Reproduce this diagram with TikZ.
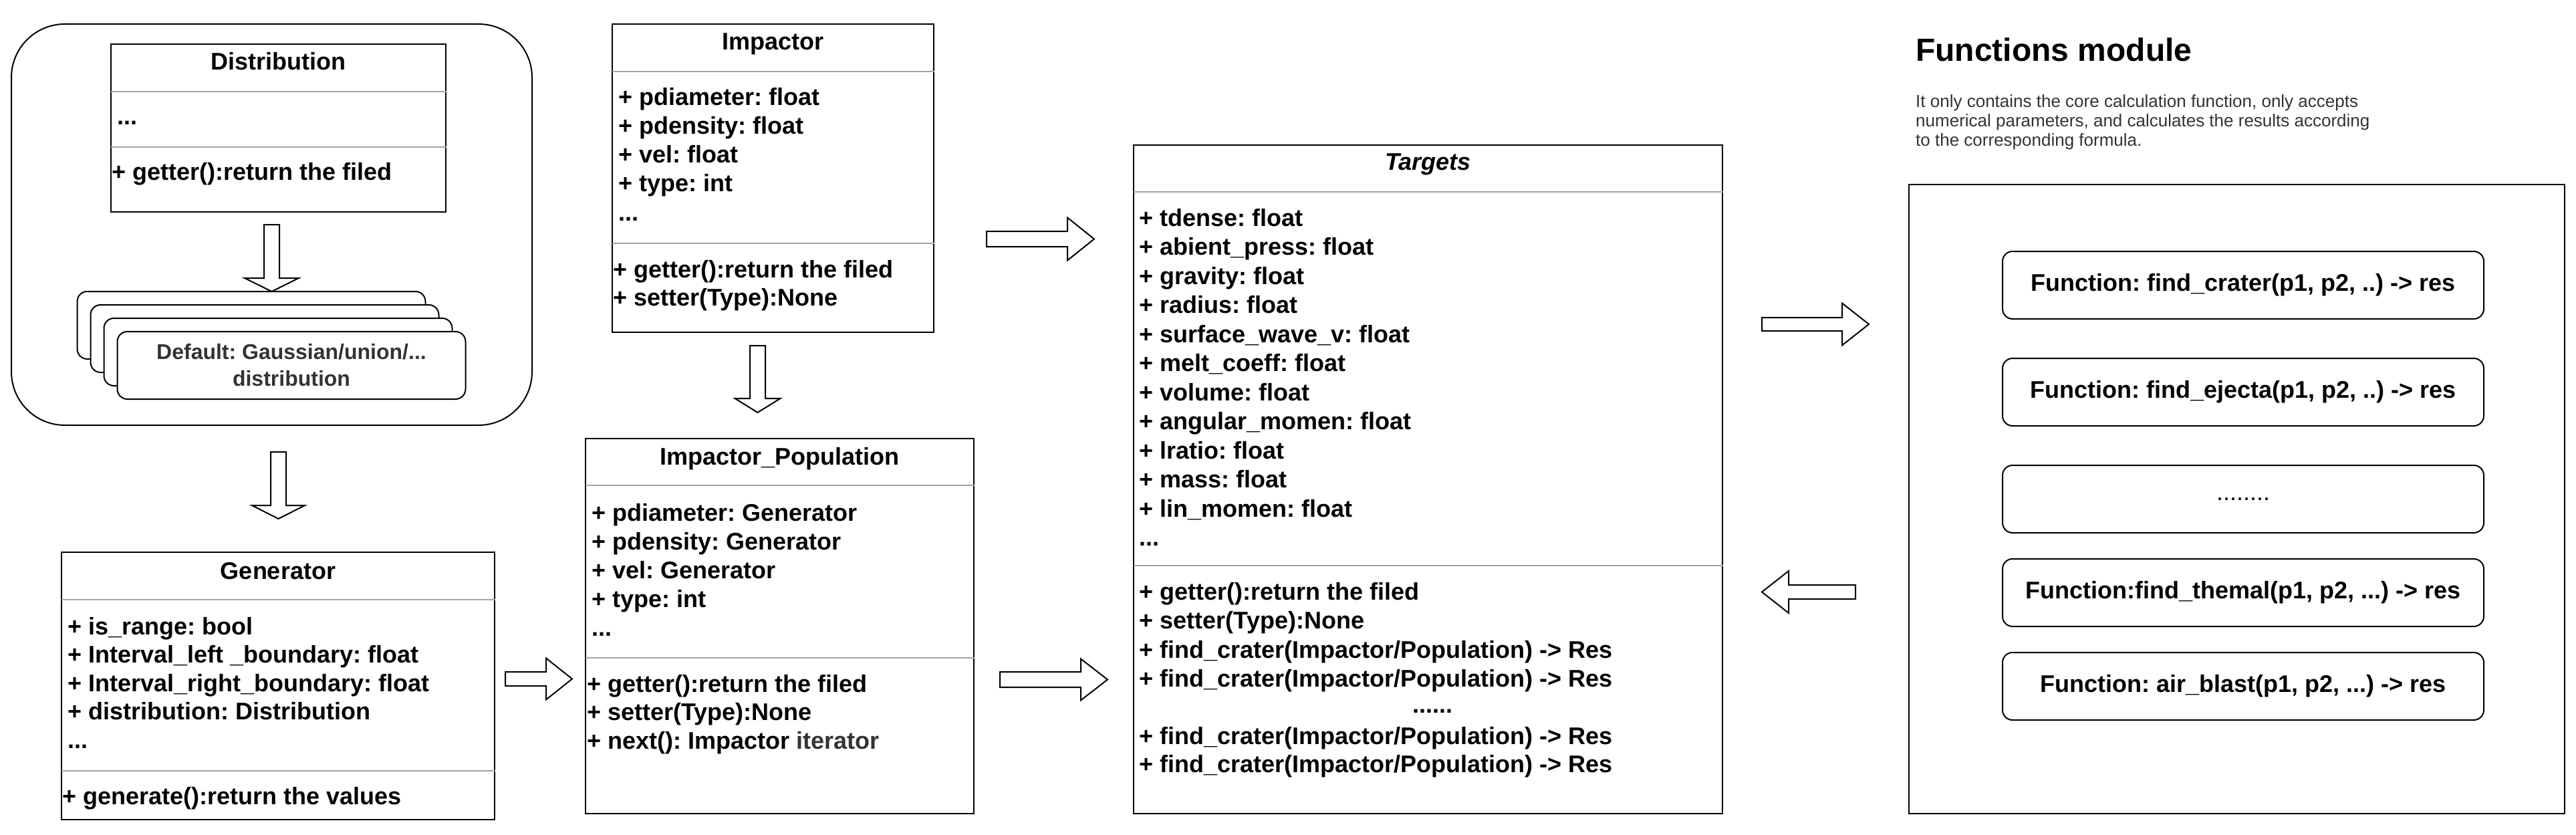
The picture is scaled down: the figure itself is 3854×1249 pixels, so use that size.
\documentclass[tikz,border=0pt]{standalone}
\usepackage{fontspec}
\setmainfont{Liberation Sans}
\frenchspacing
\definecolor{sepgray}{HTML}{A3A3A3}
\definecolor{txtgray}{HTML}{333333}
\newcommand{\myfs}[2]{\fontsize{#1pt}{#2pt}\selectfont}
\newcommand{\dotsline}{...}
% horizontal block arrow: tail x, tip x, centre y, shaft half, head half, head length (negative for left)
\newcommand{\blkR}[6]{\draw[barrow] (#1,{#3-#4}) -- ({#2-#6},{#3-#4}) -- ({#2-#6},{#3-#5}) -- (#2,#3) -- ({#2-#6},{#3+#5}) -- ({#2-#6},{#3+#4}) -- (#1,{#3+#4}) -- cycle;}
% vertical block arrow: centre x, top y, tip y, shaft half, head half, head length
\newcommand{\blkD}[6]{\draw[barrow] ({#1-#4},#2) -- ({#1-#4},{#3-#6}) -- ({#1-#5},{#3-#6}) -- (#1,#3) -- ({#1+#5},{#3-#6}) -- ({#1+#4},{#3-#6}) -- ({#1+#4},#2) -- cycle;}
\tikzset{
  box/.style={draw=black, line width=2pt, fill=white, inner sep=0pt, outer sep=0pt},
  rbox/.style={box, rounded corners=15pt},
  sepline/.style={draw=sepgray, line width=2.5pt},
  mtxt/.style={font=\myfs{36}{43}\bfseries, inner sep=0pt, anchor=base west},
  ttl/.style={font=\myfs{36}{43}\bfseries, inner sep=0pt, anchor=base},
  ftxt/.style={font=\myfs{36}{43}\bfseries},
  barrow/.style={draw=black, line width=2pt, fill=white, line join=miter},
}
\begin{document}
\begin{tikzpicture}[x=1pt,y=-1pt]
\useasboundingbox (0,0) rectangle (3854,1249);
\fill[white] (0,0) rectangle (3854,1249);

% ---------- Distribution group ----------
\node[box, rounded corners=80pt, minimum width=779pt, minimum height=600pt] (outer) at (406.5,336) {};
\node[box, minimum width=501pt, minimum height=251pt] (dist) at (416.5,191.5) {};
\draw[sepline] (166,137) -- (668,137);
\draw[sepline] (166,220) -- (668,220);
\node[ttl] (distT) at (416.5,105) {Distribution};
\node[mtxt] (distA) at (175,187) {\dotsline};
\node[mtxt] (distM) at (167,270) {+ getter():return the filed};

\blkD{406.5}{336}{436}{11.5}{40.5}{20}

\node[rbox, minimum width=521pt, minimum height=101pt] (card1) at (376,486.5) {};
\node[rbox, minimum width=521pt, minimum height=101pt] (card2) at (396,506.5) {};
\node[rbox, minimum width=521pt, minimum height=101pt] (card3) at (416,526.5) {};
\node[rbox, minimum width=521pt, minimum height=101pt, font=\myfs{32}{40}\bfseries, text=txtgray, align=center] (card4) at (436,546.5) {Default: Gaussian/union/\dotsline\\distribution};

\blkD{416.5}{676}{776}{11.5}{39.5}{20}

% ---------- Generator ----------
\node[box, minimum width=648pt, minimum height=400pt] (gen) at (416,1026) {};
\draw[sepline] (92,897) -- (741,897);
\draw[sepline] (92,1153) -- (741,1153);
\node[ttl] (genT) at (416,866) {Generator};
\foreach \txt [count=\i] in {{+ is\_range: bool},{+ Interval\_left \_boundary: float},{+ Interval\_right\_boundary: float},{+ distribution: Distribution}}
  \node[mtxt] (genA\i) at (101,{949+42.5*(\i-1)}) {\txt};
\node[mtxt] (genA5) at (101,1119) {\dotsline};
\node[mtxt] (genM) at (93,1203) {+ generate():return the values};

\blkR{756}{856}{1015.5}{10.5}{31}{39}

% ---------- Impactor ----------
\node[box, minimum width=481pt, minimum height=461pt] (imp) at (1156.5,266.5) {};
\draw[sepline] (916,107) -- (1398,107);
\draw[sepline] (916,364) -- (1398,364);
\node[ttl] (impT) at (1156.5,75) {Impactor};
\foreach \txt [count=\i] in {{+ pdiameter: float},{+ pdensity: float},{+ vel: float},{+ type: int}}
  \node[mtxt] (impA\i) at (925,{158+43*(\i-1)}) {\txt};
\node[mtxt] (impA5) at (925,330) {\dotsline};
\node[mtxt] (impM1) at (917,415) {+ getter():return the filed};
\node[mtxt] (impM2) at (917,457) {+ setter(Type):None};

\blkD{1133.5}{517}{617}{11.5}{34}{21}

% ---------- Impactor_Population ----------
\node[box, minimum width=581pt, minimum height=561pt] (pop) at (1166.5,936.5) {};
\draw[sepline] (876,726) -- (1458,726);
\draw[sepline] (876,984) -- (1458,984);
\node[ttl] (popT) at (1166.5,695) {Impactor\_Population};
\foreach \txt [count=\i] in {{+ pdiameter: Generator},{+ pdensity: Generator},{+ vel: Generator},{+ type: int}}
  \node[mtxt] (popA\i) at (885,{779+43*(\i-1)}) {\txt};
\node[mtxt] (popA5) at (885,951) {\dotsline};
\node[mtxt] (popM1) at (878,1035) {+ getter():return the filed};
\node[mtxt] (popM2) at (878,1077) {+ setter(Type):None};
\node[mtxt] (popM3) at (878,1120) {+ next(): Impactor \textcolor{txtgray}{iterator}};

% ---------- arrows to Targets ----------
\blkR{1476}{1637}{357.5}{11.5}{32}{40}
\blkR{1496}{1657}{1016.5}{11.5}{31}{40}

% ---------- Targets ----------
\node[box, minimum width=881pt, minimum height=1000pt] (tgt) at (2136.5,717) {};
\draw[sepline] (1696,287) -- (2578,287);
\draw[sepline] (1696,846) -- (2578,846);
\node[ttl, font=\myfs{36}{43}\bfseries\itshape] (tgtT) at (2136.5,255) {Targets};
\foreach \txt [count=\i] in {{+ tdense: float},{+ abient\_press: float},{+ gravity: float},{+ radius: float},{+ surface\_wave\_v: float},{+ melt\_coeff: float},{+ volume: float},{+ angular\_momen: float},{+ lratio: float},{+ mass: float},{+ lin\_momen: float}}
  \node[mtxt] (tgtA\i) at (1704.5,{338+43.5*(\i-1)}) {\txt};
\node[mtxt] (tgtA12) at (1704.5,816.5) {\dotsline};
\node[mtxt] (tgtM1) at (1704.5,897) {+ getter():return the filed};
\node[mtxt] (tgtM2) at (1704.5,940) {+ setter(Type):None};
\node[mtxt] (tgtM3) at (1704.5,984) {+ find\_crater(Impactor/Population) -> Res};
\node[mtxt] (tgtM4) at (1704.5,1027) {+ find\_crater(Impactor/Population) -> Res};
\node[ttl] (tgtM5) at (2143,1066) {\dotsline\dotsline};
\node[mtxt] (tgtM6) at (1704.5,1113) {+ find\_crater(Impactor/Population) -> Res};
\node[mtxt] (tgtM7) at (1704.5,1155) {+ find\_crater(Impactor/Population) -> Res};

% ---------- Targets <-> Functions ----------
\blkR{2636}{2796}{485}{10}{31.5}{40}
\blkR{2776}{2636}{885.5}{10.5}{31.5}{-40}

% ---------- Functions module ----------
\node[inner sep=0pt, anchor=base west, font=\myfs{48}{56}\bfseries] (fmT) at (2866,92) {Functions module};
\node[inner sep=0pt, anchor=base west, font=\myfs{26}{29}, text=txtgray] (fmD1) at (2866,161) {It only contains the core calculation function, only accepts};
\node[inner sep=0pt, anchor=base west, font=\myfs{26}{29}, text=txtgray] (fmD2) at (2866,190) {numerical parameters, and calculates the results according};
\node[inner sep=0pt, anchor=base west, font=\myfs{26}{29}, text=txtgray] (fmD3) at (2866,219) {to the corresponding formula.};
\node[box, minimum width=981pt, minimum height=941pt] (fmod) at (3346.5,746.5) {};
\node[rbox, ftxt, minimum width=720pt, minimum height=101pt] (f1) at (3356,426.5) {Function: find\_crater(p1, p2, ..) -> res};
\node[rbox, ftxt, minimum width=720pt, minimum height=101pt] (f2) at (3356,586.5) {Function: find\_ejecta(p1, p2, ..) -> res};
\node[rbox, minimum width=720pt, minimum height=101pt, font=\myfs{36}{43}] (f3) at (3356,746.5) {\dotsline\dotsline..};
\node[rbox, ftxt, minimum width=720pt, minimum height=101pt] (f4) at (3356,886.5) {Function:find\_themal(p1, p2, \dotsline) -> res};
\node[rbox, ftxt, minimum width=720pt, minimum height=101pt] (f5) at (3356,1026.5) {Function: air\_blast(p1, p2, \dotsline) -> res};
\end{tikzpicture}
\end{document}
